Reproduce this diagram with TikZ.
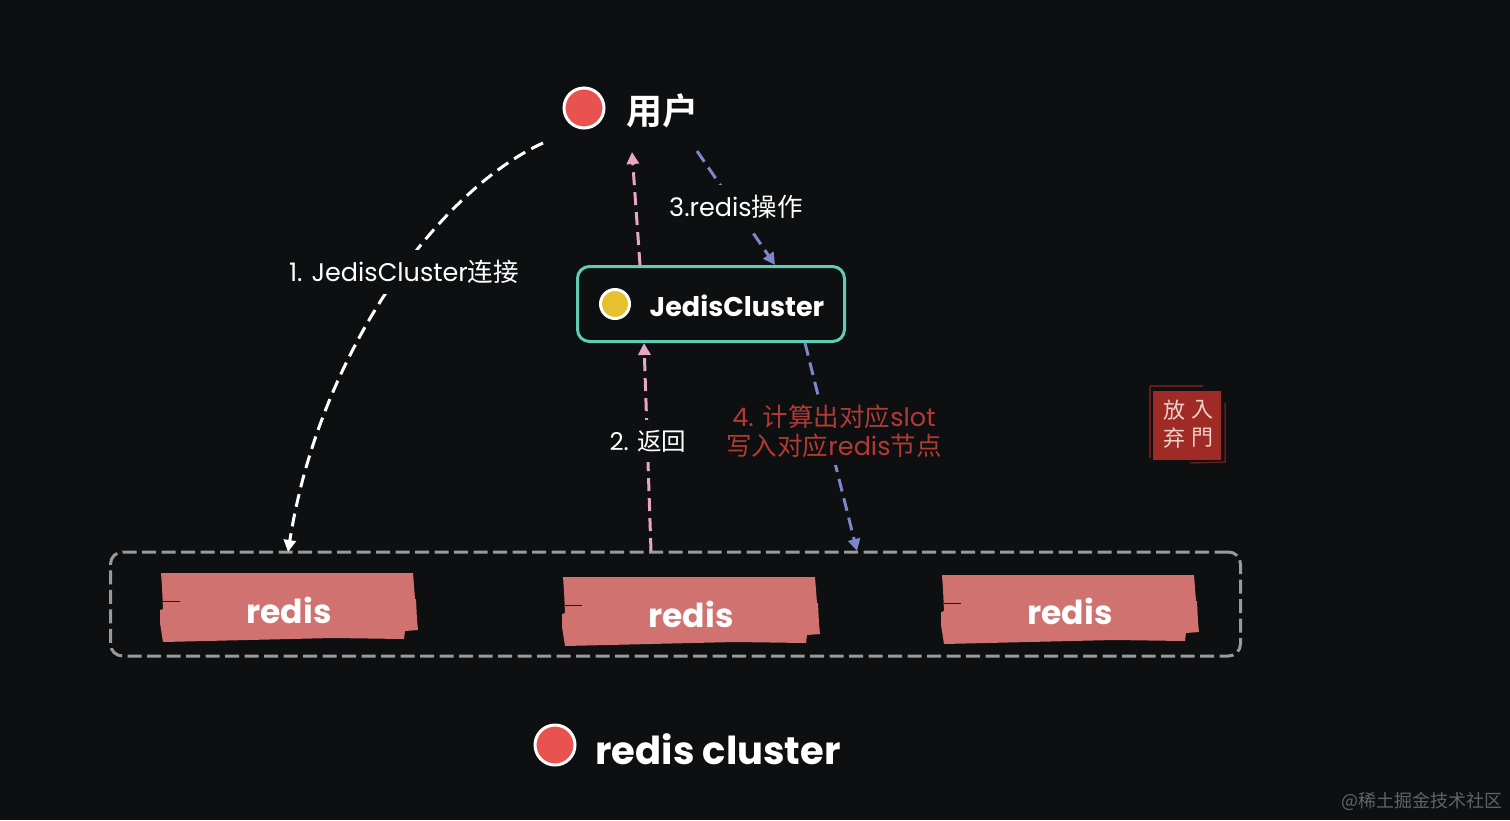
\documentclass[tikz,border=0pt]{standalone}
\usepackage{fontspec}
\setmainfont{Poppins}
\newfontfamily\cjk{Noto Sans CJK SC}
\newfontfamily\cjkb{Noto Sans CJK SC Bold}
\newfontfamily\cjkt{Noto Sans CJK TC}
\usetikzlibrary{arrows.meta}
\definecolor{bg}{HTML}{0D0F11}
\definecolor{dotred}{HTML}{E85350}
\definecolor{dotyel}{HTML}{E6C02F}
\definecolor{teal1}{HTML}{5FCDB4}
\definecolor{pink1}{HTML}{E6A6C8}
\definecolor{blue1}{HTML}{7C86C8}
\definecolor{tape}{HTML}{CF7270}
\definecolor{grey1}{HTML}{9A9A9A}
\definecolor{lab4}{HTML}{B23A34}
\definecolor{stamp}{HTML}{A02A25}
\definecolor{stampt}{HTML}{E8D4C8}
\tikzset{
  x=1pt,y=-1pt,
  dot/.style={circle,draw=white,line width=3pt,inner sep=0pt,minimum size=40pt},
  conn/.style={line width=3pt,dash pattern=on 13pt off 7pt,-{Triangle[length=12pt,width=12pt]}},
  lab/.style={text=white,font=\fontsize{25.5}{31}\selectfont,inner sep=0pt,align=center},
  big/.style={text=white,font=\bfseries\fontsize{36}{40}\selectfont,inner sep=0pt},
  stamptxt/.style={text=stampt,font=\cjkt\fontsize{22}{24}\selectfont,inner sep=0pt},
  stampline/.style={stamp!65!black,line width=1.5pt},
}
\newcommand{\tapeshape}[2]{%
  \fill[tape,shift={(#1,#2)}] (0,0) -- (252,0) -- (254,26) -- (255,26) -- (256,47) -- (257,57) -- (244,58) -- (243,66)
    -- (172,65) -- (2,69) -- (-1,50) -- (-1,37) -- (2,36) -- (1,14) -- cycle;
  \draw[black!70!red,line width=.6pt,shift={(#1,#2)}] (2,28) -- (19,28);
}
\begin{document}
\begin{tikzpicture}
\useasboundingbox (0,0) rectangle (1510,820);
\fill[bg] (0,0) rectangle (1510,820);

% cluster container
\node[draw=grey1,line width=3pt,dash pattern=on 14pt off 5.5pt,rounded corners=12pt,
  minimum width=1130pt,minimum height=104pt,inner sep=0pt] (cluster) at (675.5,604) {};

% tapes
\tapeshape{161}{573}
\tapeshape{563}{577}
\tapeshape{942}{575}
\node[big,font=\bfseries\fontsize{33}{36}\selectfont] (r1) at (289,610) {redis};
\node[big,font=\bfseries\fontsize{33}{36}\selectfont] (r2) at (691,614) {redis};
\node[big,font=\bfseries\fontsize{33}{36}\selectfont] (r3) at (1070,611) {redis};

% user
\node[dot,fill=dotred] (userdot) at (584,108) {};
\node[big,font=\cjkb\fontsize{36}{40}\selectfont] (user) at (662,111) {用户};

% JedisCluster
\node[draw=teal1,line width=3pt,rounded corners=12pt,minimum width=267pt,minimum height=75pt,inner sep=0pt,fill=bg] (jc) at (711,304) {};
\node[dot,fill=dotyel,minimum size=29pt] (jcdot) at (615,304) {};
\node[big,font=\bfseries\fontsize{27}{32}\selectfont] (jct) at (737,306) {JedisCluster};

% bottom label
\node[dot,fill=dotred] (cdot) at (555,745) {};
\node[big,font=\bfseries\fontsize{38.5}{40}\selectfont] (ct) at (718,749) {redis cluster};

% free connector ends
\coordinate (a1s) at (543,143);
\coordinate (a1e) at (288,552);
\coordinate (a2s) at (651,551);
\coordinate (a2e) at (644,343);
\coordinate (a3s) at (640,265);
\coordinate (a3e) at (632,152);
\coordinate (a4s) at (697,151);
\coordinate (a4e) at (775,265);
\coordinate (a5s) at (805,343);
\coordinate (a5e) at (857,551);

% connectors
\draw[conn,white] (a1s) .. controls (440,190) and (320,350) .. (a1e);
\draw[conn,pink1] (a2s) -- (a2e);
\draw[conn,pink1] (a3s) -- (a3e);
\draw[conn,blue1] (a4s) -- (a4e);
\draw[conn,blue1] (a5s) -- (a5e);

% labels
\node[lab,fill=bg,inner xsep=4pt,inner ysep=10pt] (l1) at (404,272) {1. JedisCluster{\cjk 连接}};
\node[lab,fill=bg,inner xsep=3pt,inner ysep=10pt,font=\fontsize{24.5}{30}\selectfont] (l2) at (648,441) {2. {\cjk 返回}};
\node[lab,fill=bg,inner xsep=4pt,inner ysep=10pt] (l3) at (736,207) {3.redis{\cjk 操作}};
\node[lab,fill=bg,text=lab4,inner xsep=4pt,inner ysep=8pt,font=\fontsize{25.5}{29}\selectfont] (l4) at (834,431) {4. {\cjk 计算出对应}slot\\{\cjk 写入对应}redis{\cjk 节点}};

% stamp
\fill[stamp] (1153,391) rectangle (1221,460);
\draw[stampline] (1150,386) -- (1203,386);
\draw[stampline] (1150,386) -- (1150,458);
\draw[stampline] (1225,403) -- (1225,462) -- (1190,463);
\node[stamptxt] (s1) at (1174,410) {放};
\node[stamptxt] (s2) at (1202,410) {入};
\node[stamptxt] (s3) at (1174,438) {弃};
\node[stamptxt] (s4) at (1202,438) {門};

% watermark
\node[text=white!35!bg,font=\cjk\fontsize{18}{20}\selectfont,inner sep=0pt] (wm) at (1422,801) {@稀土掘金技术社区};
\end{tikzpicture}
\end{document}
